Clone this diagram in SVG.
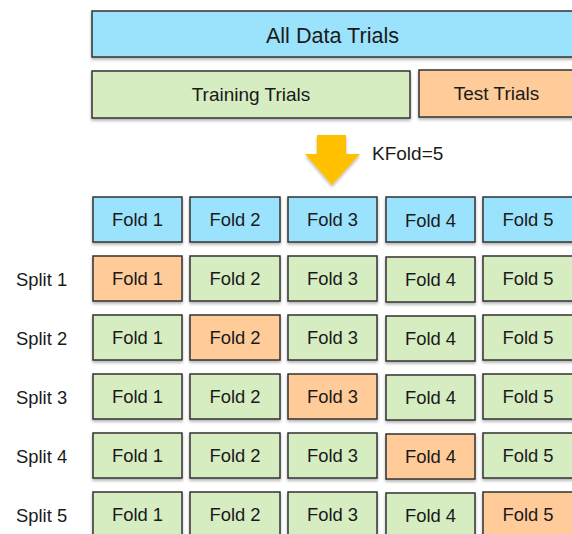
<svg xmlns="http://www.w3.org/2000/svg" width="572" height="534" viewBox="0 0 572 534">
<style>
text{font-family:"Liberation Sans",Arial,sans-serif;fill:#1a1a1a;text-anchor:middle}
.b{stroke:#333;stroke-width:1.5;filter:url(#sh)}
.blue{fill:#9BE3FD}.green{fill:#D6ECC1}.orange{fill:#FFCB99}
.f{font-size:18.4px}
.t{font-size:19px}
.lbl{font-size:18.4px;text-anchor:start}
</style>
<defs>
<filter id="sh" x="-10%" y="-10%" width="120%" height="140%">
<feDropShadow dx="0" dy="2" stdDeviation="1.5" flood-color="#000" flood-opacity="0.3"/>
</filter>
</defs>
<rect width="572" height="534" fill="#fff"/>
<g id="all"><rect class="b blue" x="92" y="11" width="490" height="46"/><text x="332.5" y="43" style="font-size:21.6px">All Data Trials</text></g>
<g id="train"><rect class="b green" x="92" y="71" width="318" height="47"/><text x="251" y="101" class="t">Training Trials</text></g>
<g id="test"><rect class="b orange" x="419" y="70" width="165" height="47"/><text x="496.5" y="100" class="t">Test Trials</text></g>
<g id="arrow"><polygon points="317,135 346,135 346,154 360,154 332,185 305,154 317,154" fill="#FFC000" filter="url(#sh)"/><text x="372" y="160" class="t" style="text-anchor:start">KFold=5</text></g>
<g id="header">
<rect class="b blue" x="93" y="197" width="89" height="45"/><text x="137.5" y="225.5" class="f">Fold 1</text>
<rect class="b blue" x="190" y="197" width="90" height="45"/><text x="235" y="225.5" class="f">Fold 2</text>
<rect class="b blue" x="288" y="197" width="89" height="45"/><text x="332.5" y="225.5" class="f">Fold 3</text>
<rect class="b blue" x="386" y="197" width="89" height="45"/><text x="430.5" y="226.5" class="f">Fold 4</text>
<rect class="b blue" x="483" y="197" width="100" height="45"/><text x="528" y="225.5" class="f">Fold 5</text>
</g>
<g id="split1" transform="translate(0,59)">
<text x="16" y="226.5" class="lbl">Split 1</text>
<rect class="b orange" x="93" y="197" width="89" height="45"/><text x="137.5" y="225.5" class="f">Fold 1</text>
<rect class="b green" x="190" y="197" width="90" height="45"/><text x="235" y="225.5" class="f">Fold 2</text>
<rect class="b green" x="288" y="197" width="89" height="45"/><text x="332.5" y="225.5" class="f">Fold 3</text>
<rect class="b green" x="386" y="198" width="89" height="45"/><text x="430.5" y="226.5" class="f">Fold 4</text>
<rect class="b green" x="483" y="197" width="100" height="45"/><text x="528" y="225.5" class="f">Fold 5</text>
</g>
<g id="split2" transform="translate(0,118)">
<text x="16" y="226.5" class="lbl">Split 2</text>
<rect class="b green" x="93" y="197" width="89" height="45"/><text x="137.5" y="225.5" class="f">Fold 1</text>
<rect class="b orange" x="190" y="197" width="90" height="45"/><text x="235" y="225.5" class="f">Fold 2</text>
<rect class="b green" x="288" y="197" width="89" height="45"/><text x="332.5" y="225.5" class="f">Fold 3</text>
<rect class="b green" x="386" y="198" width="89" height="45"/><text x="430.5" y="226.5" class="f">Fold 4</text>
<rect class="b green" x="483" y="197" width="100" height="45"/><text x="528" y="225.5" class="f">Fold 5</text>
</g>
<g id="split3" transform="translate(0,177)">
<text x="16" y="226.5" class="lbl">Split 3</text>
<rect class="b green" x="93" y="197" width="89" height="45"/><text x="137.5" y="225.5" class="f">Fold 1</text>
<rect class="b green" x="190" y="197" width="90" height="45"/><text x="235" y="225.5" class="f">Fold 2</text>
<rect class="b orange" x="288" y="197" width="89" height="45"/><text x="332.5" y="225.5" class="f">Fold 3</text>
<rect class="b green" x="386" y="198" width="89" height="45"/><text x="430.5" y="226.5" class="f">Fold 4</text>
<rect class="b green" x="483" y="197" width="100" height="45"/><text x="528" y="225.5" class="f">Fold 5</text>
</g>
<g id="split4" transform="translate(0,236)">
<text x="16" y="226.5" class="lbl">Split 4</text>
<rect class="b green" x="93" y="197" width="89" height="45"/><text x="137.5" y="225.5" class="f">Fold 1</text>
<rect class="b green" x="190" y="197" width="90" height="45"/><text x="235" y="225.5" class="f">Fold 2</text>
<rect class="b green" x="288" y="197" width="89" height="45"/><text x="332.5" y="225.5" class="f">Fold 3</text>
<rect class="b orange" x="386" y="198" width="89" height="45"/><text x="430.5" y="226.5" class="f">Fold 4</text>
<rect class="b green" x="483" y="197" width="100" height="45"/><text x="528" y="225.5" class="f">Fold 5</text>
</g>
<g id="split5" transform="translate(0,295)">
<text x="16" y="226.5" class="lbl">Split 5</text>
<rect class="b green" x="93" y="197" width="89" height="45"/><text x="137.5" y="225.5" class="f">Fold 1</text>
<rect class="b green" x="190" y="197" width="90" height="45"/><text x="235" y="225.5" class="f">Fold 2</text>
<rect class="b green" x="288" y="197" width="89" height="45"/><text x="332.5" y="225.5" class="f">Fold 3</text>
<rect class="b green" x="386" y="198" width="89" height="45"/><text x="430.5" y="226.5" class="f">Fold 4</text>
<rect class="b orange" x="483" y="197" width="100" height="45"/><text x="528" y="225.5" class="f">Fold 5</text>
</g>
<g id="connectors"></g>
</svg>
